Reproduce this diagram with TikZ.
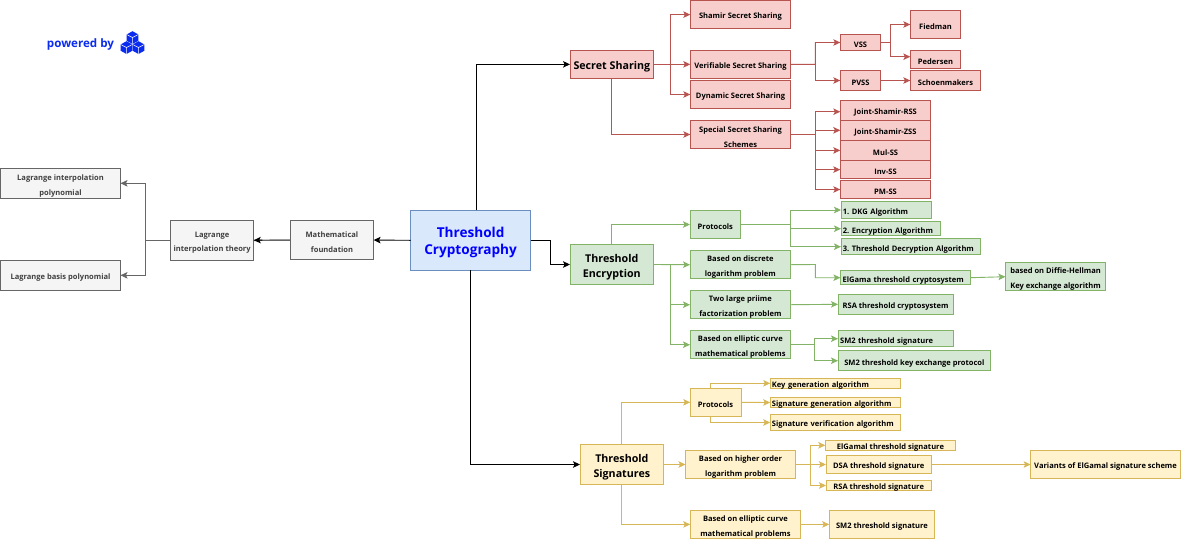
\documentclass[tikz,border=0pt]{standalone}
\usepackage{fontspec}
\setmainfont{Open Sans}
\usetikzlibrary{arrows.meta,calc}
\frenchspacing
\definecolor{rl}{HTML}{B85450}\definecolor{rf}{HTML}{F8CECC}
\definecolor{gl}{HTML}{82B366}\definecolor{gf}{HTML}{D5E8D4}
\definecolor{yl}{HTML}{D6B656}\definecolor{yf}{HTML}{FFF2CC}
\definecolor{bl}{HTML}{6C8EBF}\definecolor{bf}{HTML}{DAE8FC}
\definecolor{kl}{HTML}{666666}\definecolor{kf}{HTML}{F5F5F5}
\definecolor{brand}{HTML}{0A2BF0}
\definecolor{pureblue}{HTML}{0000FF}
\newcommand\bx[7]{%
  \pgfmathsetmacro\cxx{(#3+#5)/2}\pgfmathsetmacro\cyy{(#4+#6)/2}%
  \pgfmathsetmacro\www{#5-#3}\pgfmathsetmacro\hhh{#6-#4}%
  \node[#2,minimum width=\www pt,minimum height=\hhh pt] (#1) at (\cxx,\cyy) {};
  \node[#2,draw=none,fill=none,minimum width=\www pt] (#1t) at (\cxx,\cyy+2.4) {#7};}
\tikzset{
  boxbase/.style={draw,line width=0.9pt,inner sep=0pt,outer sep=0pt,align=center,text=black,font=\fontsize{7.55}{14.7}\selectfont\bfseries},
  rbox/.style={boxbase,draw=rl,fill=rf},
  gbox/.style={boxbase,draw=gl,fill=gf},
  ybox/.style={boxbase,draw=yl,fill=yf},
  kbox/.style={boxbase,draw=kl,fill=kf,text=black!75},
  big/.style={font=\fontsize{10.7}{15}\selectfont\bfseries},
  con/.style={line width=0.9pt,-{Stealth[length=7pt,width=6.5pt,inset=1.6pt]}},
  rc/.style={con,color=rl},
  gc/.style={con,color=gl},
  yc/.style={con,color=yl},
  kc/.style={con,color=kl},
  bc/.style={con,color=black},
}
\begin{document}
\begin{tikzpicture}[x=1pt,y=-1pt]
\useasboundingbox (0,0) rectangle (1182,539);
% root
\bx{tc}{boxbase,draw=bl,fill=bf,text=pureblue,font=\fontsize{13.6}{17.5}\selectfont\bfseries}{410.5}{210.3}{530.7}{270.3}{Threshold\\Cryptography}
% left
\bx{mf}{kbox}{290.3}{220.3}{373.6}{259.8}{Mathematical\\foundation}
\bx{lt}{kbox}{170.5}{220.3}{253.8}{260.3}{Lagrange\\interpolation theory}
\bx{lp}{kbox}{0.5}{168.3}{120.5}{198.3}{Lagrange interpolation\\polynomial}
\bx{lb}{kbox}{0.5}{260.3}{120.5}{290.3}{Lagrange basis polynomial}
% red
\bx{ss}{rbox,big}{570}{50}{653.7}{78.7}{Secret Sharing}
\bx{sh}{rbox}{690.3}{0.5}{790.7}{28.7}{Shamir Secret Sharing}
\bx{vs}{rbox}{690.3}{50}{790.7}{78.7}{Verifiable Secret Sharing}
\bx{dy}{rbox}{690.3}{80.3}{790.7}{108.7}{Dynamic Secret Sharing}
\bx{sp}{rbox}{690.3}{120.3}{790.7}{148.7}{Special Secret Sharing\\Schemes}
\bx{vss}{rbox}{840.3}{34.3}{880.7}{50.7}{VSS}
\bx{pvss}{rbox}{840.3}{70.3}{880.7}{90.7}{PVSS}
\bx{fi}{rbox}{910.3}{10.3}{960.7}{38.7}{Fiedman}
\bx{pe}{rbox}{910.3}{50.3}{960.7}{68.7}{Pedersen}
\bx{sc}{rbox}{910.3}{70.3}{980.7}{90.7}{Schoenmakers}
\bx{jr}{rbox}{840.3}{100.3}{930.7}{120.3}{Joint-Shamir-RSS}
\bx{jz}{rbox}{840.3}{120.3}{930.7}{140.3}{Joint-Shamir-ZSS}
\bx{mu}{rbox}{840.3}{140.3}{930.7}{160.5}{Mul-SS}
\bx{in}{rbox}{840.3}{160.5}{930.7}{178.7}{Inv-SS}
\bx{pm}{rbox}{840.3}{180.3}{930.7}{198.7}{PM-SS}
% green
\bx{te}{gbox,big}{570}{244.3}{653.6}{284.7}{Threshold\\Encryption}
\bx{gp}{gbox}{690}{210.3}{740.7}{238.7}{Protocols}
\bx{gd}{gbox}{690}{250.7}{790.7}{278.7}{Based on discrete\\logarithm problem}
\bx{gt}{gbox}{690}{290.7}{790.7}{318.7}{Two large priime\\factorization problem}
\bx{ge}{gbox}{690}{330.7}{790.7}{358.7}{Based on elliptic curve\\mathematical problems}
\bx{dk}{gbox,text width=87pt,align=left}{841}{201.3}{931.8}{218.7}{1. DKG Algorithm}
\bx{en}{gbox,text width=96pt,align=left}{841}{221.7}{940.7}{235.7}{2. Encryption Algorithm}
\bx{de}{gbox,text width=136pt,align=left}{841}{238.7}{980.7}{254.7}{3. Threshold Decryption Algorithm}
\bx{el}{gbox,text width=126pt,align=left}{840.4}{270.7}{970.7}{284.7}{ElGama threshold cryptosystem}
\bx{dh}{gbox}{1005.4}{262.7}{1105.7}{290.7}{based on Diffie-Hellman\\Key exchange algorithm}
\bx{rs}{gbox}{838}{294.3}{953.2}{314.3}{RSA threshold cryptosystem}
\bx{s1}{gbox,text width=111pt,align=left}{838}{330.7}{953.2}{346.7}{SM2 threshold signature}
\bx{s2}{gbox}{838}{350.7}{990.7}{370.7}{SM2 threshold key exchange protocol}
% yellow
\bx{ts}{ybox,big}{580}{444.3}{663.7}{484.7}{Threshold\\Signatures}
\bx{yp}{ybox}{690.2}{388.3}{741}{416.3}{Protocols}
\bx{yk}{ybox,text width=127pt,align=left}{770.2}{378.3}{900.6}{388.3}{Key generation algorithm}
\bx{yg}{ybox,text width=127pt,align=left}{770.2}{397.3}{900.6}{407.7}{Signature generation algorithm}
\bx{yv}{ybox,text width=127pt,align=left}{770.2}{414.3}{900.6}{430.7}{Signature verification algorithm}
\bx{yh}{ybox}{685.5}{450.3}{795.6}{478.7}{Based on higher order\\logarithm problem}
\bx{ye}{ybox}{825.3}{440.3}{955.6}{450.3}{ElGamal threshold signature}
\bx{yd}{ybox}{826}{455.3}{931.4}{473.7}{DSA threshold signature}
\bx{yr}{ybox}{826}{480.3}{931.4}{490.7}{RSA threshold signature}
\bx{yw}{ybox}{1030.6}{450.3}{1180.5}{478.7}{Variants of ElGamal signature scheme}
\bx{yc}{ybox}{690.2}{510.3}{800.7}{538.5}{Based on elliptic curve\\mathematical problems}
\bx{ys}{ybox}{829.2}{510.3}{934.6}{538.5}{SM2 threshold signature}
% black connectors
\draw[color=kl,line width=1.4pt] (mf.west) -- (lt.east);
\draw[bc] (tc.west) -- (mf.east);
\draw[bc] ([xshift=-28pt]mf.west) -- (lt.east);
\coordinate (tcT) at (476.2,210.3);
\coordinate (tcB) at (470.4,270.3);
\draw[bc] (tcT) |- (ss.west);
\draw[bc] (tc.east) -- ++(19.3,0) |- (te.west);
\draw[bc] (tcB) |- (ts.west);
% gray
\coordinate (lj) at (145.7,240.3);
\draw[kc] (lt.west) -- (lj) |- (lp.east);
\draw[kc] (lt.west) -- (lj) |- (lb.east);
% red connectors
\coordinate (r1) at (670.3,64.3);
\coordinate (r2) at (815.3,64.3);
\coordinate (r3) at (815.3,134.5);
\coordinate (r4) at (890.3,42.5);
\draw[rc] (ss.east) -- (vs.west);
\draw[rc] (r1) |- (sh.west);
\draw[rc] (r1) |- (dy.west);
\draw[rc] (ss.south) |- (sp.west);
\draw[rc] (vs.east) -- (r2) |- (vss.west);
\draw[rc] (r2) |- (pvss.west);
\draw[rc] (vss.east) -- (r4) |- (fi.west);
\draw[rc] (r4) |- ([yshift=2.8pt]pe.west);
\draw[rc] (pvss.east) -- (sc.west);
\draw[rc] (sp.east) -- (r3) |- ([yshift=-1.4pt]jr.west);
\draw[rc] (r3) |- (jz.west);
\draw[rc] (r3) |- (mu.west);
\draw[rc] (r3) |- (in.west);
\draw[rc] (r3) |- (pm.west);
% green connectors
\coordinate (g1) at (670.7,264.5);
\coordinate (g2) at (790.7,224.5);
\coordinate (g3) at (815.4,264.5);
\coordinate (g4) at (814.3,344.7);
\draw[gc] (te.north) |- (gp.west);
\draw[gc] (te.east) -- (gd.west);
\draw[gc] (g1) |- (gt.west);
\draw[gc] (g1) |- (ge.west);
\draw[gc] (gp.east) -- (g2) |- (dk.west);
\draw[gc] (g2) |- (en.west);
\draw[gc] (g2) |- (de.west);
\draw[gc] (gd.east) -- (g3) |- (el.west);
\draw[gc] (el.east) -- (dh.west);
\draw[gc] (gt.east) -- (rs.west);
\draw[gc] (ge.east) -- (g4) |- (s1.west);
\draw[gc] (g4) |- (s2.west);
% yellow connectors
\coordinate (ytop) at (710.5,388.3);
\coordinate (ybot) at (710.5,416.3);
\coordinate (y1) at (810.4,464.5);
\draw[yc] (ts.north) |- (yp.west);
\draw[yc] (ytop) |- (yk.west);
\draw[yc] (yp.east) -- (yg.west);
\draw[yc] (ybot) |- (yv.west);
\draw[yc] (ts.east) -- (yh.west);
\draw[yc] (yh.east) -- (yd.west);
\draw[yc] (y1) |- (ye.west);
\draw[yc] (y1) |- (yr.west);
\draw[yc] (yd.east) -- (yw.west);
\draw[yc] (ts.south) |- (yc.west);
\draw[yc] (yc.east) -- (ys.west);
% logo
\node[inner sep=0pt,text=brand,font=\fontsize{11.6}{12}\selectfont\bfseries] (pw) at (80.5,44) {powered by};
\foreach \cx/\cy in {132.5/37.5,126.5/47.5,138.5/47.5}{
  \fill[brand] (\cx,\cy-6.3) -- (\cx+5.9,\cy-3) -- (\cx+5.9,\cy+3.2) -- (\cx,\cy+6.5) -- (\cx-5.9,\cy+3.2) -- (\cx-5.9,\cy-3) -- cycle;
  \draw[white,line width=0.5pt] (\cx-5.9,\cy-3) -- (\cx,\cy) -- (\cx+5.9,\cy-3) (\cx,\cy) -- (\cx,\cy+6.5);
}
\end{tikzpicture}
\end{document}
